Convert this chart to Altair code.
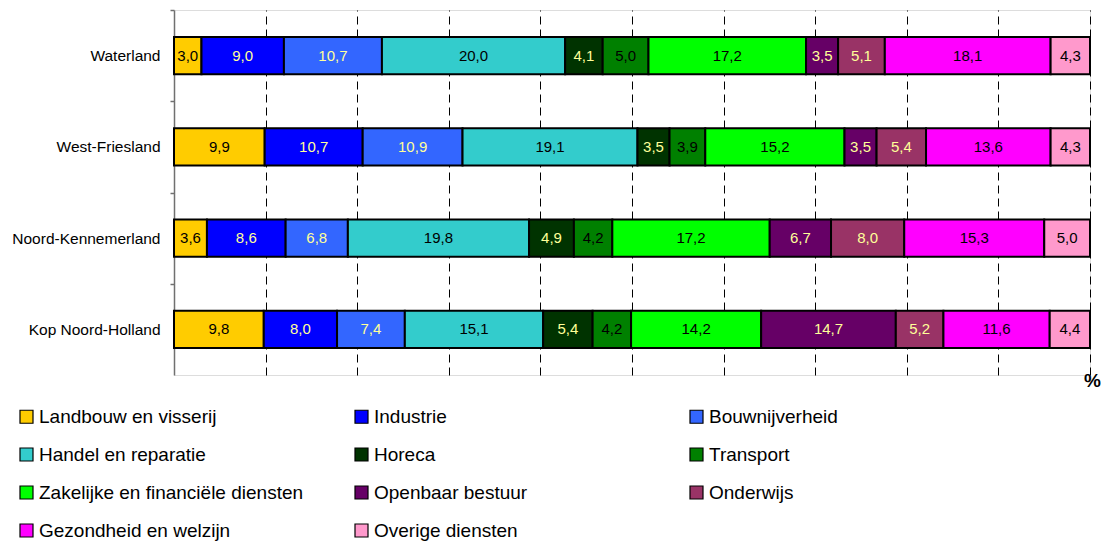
import json
import altair as alt
import pandas as pd

regions = ["Waterland", "West-Friesland", "Noord-Kennemerland", "Kop Noord-Holland"]
sectors = [
    "Landbouw en visserij", "Industrie", "Bouwnijverheid", "Handel en reparatie",
    "Horeca", "Transport", "Zakelijke en financiële diensten", "Openbaar bestuur",
    "Onderwijs", "Gezondheid en welzijn", "Overige diensten",
]
waterland = [3.0, 9.0, 10.7, 20.0, 4.1, 5.0, 17.2, 3.5, 5.1, 18.1, 4.3]
west_friesland = [9.9, 10.7, 10.9, 19.1, 3.5, 3.9, 15.2, 3.5, 5.4, 13.6, 4.3]
noord_kennemerland = [3.6, 8.6, 6.8, 19.8, 4.9, 4.2, 17.2, 6.7, 8.0, 15.3, 5.0]
kop_noord_holland = [9.8, 8.0, 7.4, 15.1, 5.4, 4.2, 14.2, 14.7, 5.2, 11.6, 4.4]
gridlines = [0.1, 0.2, 0.3, 0.4, 0.5, 0.6, 0.7, 0.8, 0.9, 1.0]

colors = ["#FFCC00", "#0000FF", "#3366FF", "#33CCCC", "#003300", "#008000",
          "#00FF00", "#660066", "#993366", "#FF00FF", "#FF99CC"]
dark_sectors = ["Industrie", "Bouwnijverheid", "Horeca", "Openbaar bestuur", "Onderwijs"]

rows = []
for reg, vals in zip(regions, [waterland, west_friesland, noord_kennemerland, kop_noord_holland]):
    for i, (s, v) in enumerate(zip(sectors, vals)):
        rows.append({"region": reg, "sector": s, "order": i, "value": v})
df = pd.DataFrame(rows)

FONT = "Liberation Sans"
W, H = 916, 365
step = H / len(regions)

base = alt.Chart(df).transform_stack(
    stack="value", as_=["x0", "x1"], groupby=["region"],
    sort=[alt.SortField("order")], offset="normalize",
).transform_calculate(
    mid="(datum.x0 + datum.x1) / 2",
    label="replace(format(datum.value, '.1f'), '.', ',')",
)

xscale = alt.Scale(domain=[0, 1], nice=False, zero=True)
xaxis = alt.Axis(values=gridlines, grid=True, gridDash=[8, 5], gridColor="#000000",
                 gridWidth=1, gridOpacity=1, labels=False, ticks=False, domain=False,
                 title="%", titleX=W + 2, titleY=5, titleAlign="center",
                 titleBaseline="middle", titleFontSize=19, titleFontWeight="bold",
                 titleFont=FONT, titleColor="black")
yenc = alt.Y("region:N", sort=regions,
             scale=alt.Scale(paddingInner=0.59, paddingOuter=0.295),
             axis=alt.Axis(title=None, labelFontSize=15.5, labelFont=FONT, labelColor="black",
                           labelPadding=10, domainColor="#707070", domainWidth=1.5,
                           tickColor="#707070", tickSize=4, tickWidth=1.5,
                           tickOffset=-step / 2, labelOffset=step / 2, grid=False))

bars = base.mark_bar(stroke="black", strokeWidth=2).encode(
    x=alt.X("x0:Q", scale=xscale, axis=xaxis),
    x2="x1:Q",
    y=yenc,
    color=alt.Color("sector:N", sort=sectors,
                    scale=alt.Scale(domain=sectors, range=colors),
                    legend=alt.Legend(title=None, orient="none", legendX=-157, legendY=397,
                                      direction="horizontal", columns=3, gridAlign="all",
                                      symbolType="square", symbolSize=169,
                                      symbolStrokeColor="black", symbolStrokeWidth=1.2,
                                      labelFontSize=19, labelFont=FONT, labelColor="black",
                                      labelLimit=0, labelOffset=3, rowPadding=18,
                                      columnPadding=48, padding=0)),
)

test = "indexof(" + json.dumps(dark_sectors) + ", datum.sector) >= 0"
texts = base.mark_text(fontSize=15, font=FONT).encode(
    x=alt.X("mid:Q", scale=xscale, axis=xaxis),
    y=yenc,
    text="label:N",
    color=alt.condition(test, alt.value("#FFFF99"), alt.value("#000000")),
)

chart = alt.layer(bars, texts).properties(
    width=W, height=H,
    padding={"left": 166, "top": 2, "right": 11, "bottom": 167},
    autosize=alt.AutoSizeParams(type="none"),
).configure_view(stroke=None).configure(font=FONT, background="white")

chart.save("out.html", embed_options={"renderer": "svg", "actions": False})
